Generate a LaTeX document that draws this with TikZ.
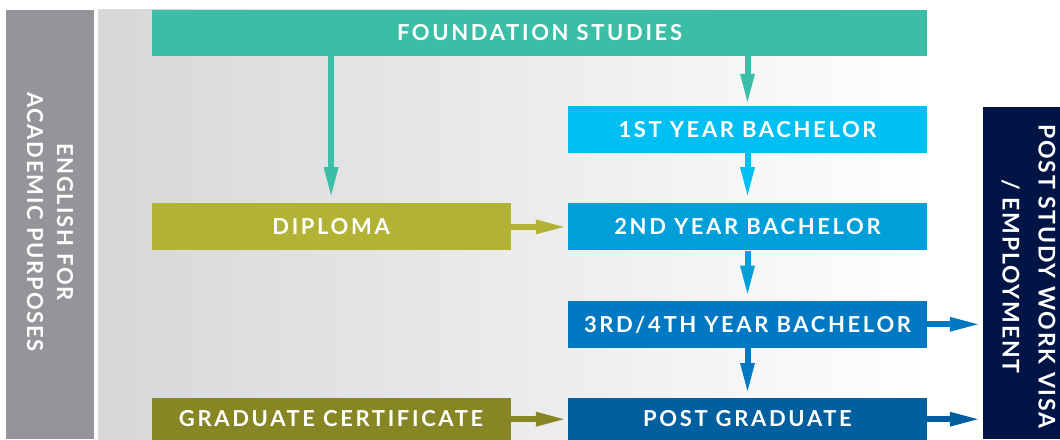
\documentclass[tikz,border=0pt]{standalone}
\usepackage{fontspec}
\usepackage{tikz}
\usetikzlibrary{positioning, arrows.meta}

\newfontfamily\boxfont{Lato}[LetterSpace=12]
\newfontfamily\sidefont{Lato}[LetterSpace=8]

\definecolor{foundteal}{HTML}{3BBEA6}
\definecolor{yearone}{HTML}{00C0F3}
\definecolor{yeartwo}{HTML}{009FDA}
\definecolor{yearthree}{HTML}{0079C2}
\definecolor{postgrad}{HTML}{005F9E}
\definecolor{diplomagreen}{HTML}{B2B335}
\definecolor{certgreen}{HTML}{878625}
\definecolor{visanavy}{HTML}{001446}
\definecolor{eapgrey}{HTML}{939598}
\definecolor{panelgrey}{HTML}{D6D7D9}

\begin{document}
\begin{tikzpicture}[x=1pt, y=-1pt,
  main box/.style={rectangle, inner sep=0pt, text=white,
    font=\boxfont\bfseries\fontsize{22}{26}\selectfont,
    text height=15.5pt, text depth=0pt, minimum height=47pt, minimum width=359pt},
  side box/.style={rectangle, inner sep=0pt},
  side text/.style={rotate=-90, align=center, inner sep=0pt, text=white},
  flow/.style={line width=6pt, -{Triangle[length=28pt, width=15pt, line width=0pt]}}]

\useasboundingbox (0,0) rectangle (1060,439);
\fill[white] (0,0) rectangle (1060,439);
\shade[left color=panelgrey, right color=white] (98,9) rectangle (930,439);

% side bars
\node[side box, fill=eapgrey, minimum width=88pt, minimum height=429pt] (eap) at (50,224.5) {};
\node[side text, font=\sidefont\bfseries\fontsize{22}{30}\selectfont] (eaptext) at (50,222) {ENGLISH FOR\\ACADEMIC PURPOSES};
\node[side box, fill=visanavy, minimum width=77pt, minimum height=332pt] (visa) at (1021.5,273) {};
\node[side text, font=\sidefont\bfseries\fontsize{23}{36}\selectfont] (visatext) at (1028.5,276.5) {POST STUDY WORK VISA\\/ EMPLOYMENT};

% study path
\node[main box, fill=foundteal, minimum width=775pt, minimum height=46pt] (found) at (539.5,33) {FOUNDATION STUDIES};
\node[main box, fill=yearone] (first) at (747.5,129.5) {1ST YEAR BACHELOR};
\node[main box, fill=yeartwo, below=50pt of first] (second) {2ND YEAR BACHELOR};
\node[main box, fill=yearthree, below=50pt of second] (third) {3RD/4TH YEAR BACHELOR};
\node[main box, fill=postgrad, minimum height=42pt, below=50pt of third] (post) {POST GRADUATE};
\node[main box, fill=diplomagreen, left=57pt of second] (diploma) {DIPLOMA};
\node[main box, fill=certgreen, minimum height=42pt, left=57pt of post] (cert) {GRADUATE CERTIFICATE};

\draw[flow, foundteal, shorten >=8pt] (diploma.north |- found.south) -- (diploma.north);
\draw[flow, foundteal, shorten >=4pt] (first.north |- found.south) -- (first.north);
\draw[flow, yearone, shorten >=8pt] (first) -- (second);
\draw[flow, yeartwo, shorten >=7pt] (second) -- (third);
\draw[flow, yearthree, shorten >=7pt] (third) -- (post);
\draw[flow, diplomagreen, shorten >=4pt] (diploma) -- (second);
\draw[flow, certgreen, shorten >=4pt] (cert) -- (post);
\draw[flow, yearthree, shorten >=5pt] (third.east) -- (third.east -| visa.west);
\draw[flow, postgrad, shorten >=5pt] (post.east) -- (post.east -| visa.west);

\end{tikzpicture}
\end{document}
